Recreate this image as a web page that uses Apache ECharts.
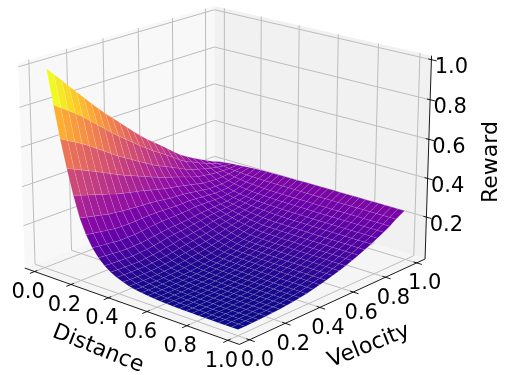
<!DOCTYPE html>
<html>
<head>
<meta charset="utf-8">
<style>html,body{margin:0;padding:0;background:#fff}#chart{width:505px;height:375px}</style>
<script src="https://cdn.jsdelivr.net/npm/echarts@6/dist/echarts.min.js"></script>
</head>
<body>
<div id="chart"></div>
<script>
const distance = [.04, .072, .104, .136, .168, .2, .232, .264, .296, .328, .36, .392, .424, .456, .488, .52, .552, .584, .616, .648, .68, .712, .744, .776, .808, .84, .872, .904, .936, .968, 1]
const velocity = [0, .039, .078, .116, .155, .194, .233, .272, .31, .349, .388, .427, .466, .504, .543, .582, .621, .66, .698, .737, .776, .815, .854, .892, .931, .985]
// reward[i][j]: distance i, velocity j
const reward = [
    [1, .96, .92, .88, .84, .8, .76, .722, .685, .65, .615, .58, .545, .512, .48, .452, .425, .395, .365, .337, .315, .295, .275, .258, .24, .22],
    [.83, .803, .778, .752, .724, .692, .66, .628, .596, .567, .538, .51, .481, .455, .428, .406, .381, .357, .332, .309, .294, .277, .262, .248, .236, .223],
    [.67, .649, .629, .608, .586, .56, .535, .51, .485, .463, .441, .419, .398, .377, .358, .342, .324, .307, .29, .274, .264, .254, .245, .238, .232, .227],
    [.53, .513, .497, .481, .464, .446, .428, .411, .394, .38, .364, .349, .334, .319, .306, .295, .283, .27, .257, .246, .24, .234, .23, .228, .228, .229],
    [.405, .392, .38, .369, .356, .345, .333, .323, .314, .306, .298, .287, .278, .269, .261, .255, .246, .238, .229, .221, .218, .215, .217, .22, .225, .232],
    [.3, .291, .282, .274, .265, .26, .254, .251, .248, .246, .243, .238, .233, .228, .225, .223, .218, .212, .206, .2, .201, .2, .206, .213, .222, .234],
    [.225, .218, .212, .206, .2, .198, .197, .198, .2, .201, .202, .2, .198, .197, .197, .198, .195, .192, .189, .186, .187, .189, .198, .208, .22, .236],
    [.168, .163, .159, .155, .151, .152, .153, .156, .16, .164, .167, .167, .168, .17, .172, .176, .175, .175, .173, .173, .176, .181, .192, .204, .219, .237],
    [.128, .124, .121, .118, .116, .118, .119, .123, .128, .133, .137, .139, .142, .145, .149, .154, .156, .158, .16, .162, .169, .175, .187, .201, .218, .238],
    [.098, .095, .093, .092, .09, .094, .096, .101, .107, .114, .119, .122, .126, .131, .136, .142, .146, .149, .152, .156, .163, .171, .184, .199, .217, .238],
    [.076, .074, .073, .072, .071, .075, .078, .083, .089, .094, .101, .105, .11, .115, .121, .129, .133, .139, .144, .15, .158, .168, .182, .197, .217, .239],
    [.06, .059, .058, .058, .058, .061, .064, .068, .074, .08, .086, .091, .097, .102, .109, .117, .123, .13, .137, .144, .154, .165, .18, .196, .216, .239],
    [.047, .045, .045, .045, .046, .048, .052, .056, .062, .067, .072, .078, .084, .091, .098, .107, .114, .122, .131, .14, .151, .163, .179, .195, .216, .239],
    [.037, .036, .036, .036, .037, .04, .042, .046, .051, .057, .061, .067, .074, .081, .089, .098, .107, .115, .125, .136, .149, .162, .178, .195, .216, .239],
    [.03, .029, .03, .03, .031, .033, .036, .039, .043, .047, .052, .058, .065, .073, .081, .09, .099, .11, .121, .133, .147, .161, .177, .194, .216, .24],
    [.025, .024, .025, .025, .027, .028, .03, .032, .035, .04, .044, .05, .058, .065, .074, .083, .093, .105, .117, .13, .145, .16, .177, .194, .215, .24],
    [.021, .021, .021, .022, .023, .025, .027, .029, .033, .037, .042, .048, .056, .063, .072, .081, .092, .103, .116, .129, .144, .16, .176, .194, .215, .24],
    [.018, .018, .018, .019, .021, .023, .024, .027, .031, .035, .04, .047, .054, .062, .07, .08, .091, .102, .115, .129, .143, .159, .176, .194, .215, .24],
    [.016, .016, .017, .017, .019, .021, .023, .025, .029, .034, .039, .045, .053, .061, .07, .079, .09, .102, .115, .128, .143, .159, .176, .193, .215, .24],
    [.014, .014, .015, .016, .017, .019, .021, .024, .028, .033, .037, .044, .052, .06, .069, .079, .089, .101, .114, .128, .143, .159, .175, .193, .215, .24],
    [.013, .013, .014, .015, .017, .018, .02, .023, .027, .032, .037, .044, .052, .059, .068, .078, .089, .101, .114, .128, .143, .158, .175, .193, .215, .24],
    [.012, .012, .013, .014, .016, .018, .02, .022, .026, .031, .036, .043, .051, .059, .068, .078, .089, .101, .114, .127, .142, .158, .175, .193, .215, .24],
    [.011, .011, .012, .013, .015, .017, .019, .022, .026, .031, .036, .043, .051, .058, .067, .077, .088, .1, .113, .127, .142, .158, .175, .193, .215, .24],
    [.011, .011, .012, .013, .015, .017, .019, .022, .026, .031, .036, .043, .051, .058, .067, .077, .088, .1, .113, .127, .142, .158, .175, .193, .215, .24],
    [.01, .01, .011, .012, .014, .016, .018, .021, .025, .03, .035, .042, .05, .058, .067, .077, .088, .1, .113, .127, .142, .158, .175, .193, .215, .24],
    [.01, .01, .011, .012, .014, .016, .018, .021, .025, .03, .035, .042, .05, .058, .067, .077, .088, .1, .113, .127, .142, .158, .175, .193, .215, .24],
    [.01, .01, .011, .012, .014, .016, .018, .021, .025, .03, .035, .042, .05, .058, .067, .077, .088, .1, .113, .127, .142, .158, .175, .193, .215, .24],
    [.01, .01, .011, .012, .014, .016, .018, .021, .025, .03, .035, .042, .05, .058, .067, .077, .088, .1, .113, .127, .142, .158, .175, .193, .215, .24],
    [.01, .01, .011, .012, .014, .016, .018, .021, .025, .03, .035, .042, .05, .058, .067, .077, .088, .1, .113, .127, .142, .158, .175, .193, .215, .24],
    [.01, .01, .011, .012, .014, .016, .018, .021, .025, .03, .035, .042, .05, .058, .067, .077, .088, .1, .113, .127, .142, .158, .175, .193, .215, .24],
    [.01, .01, .011, .012, .014, .016, .018, .021, .025, .03, .035, .042, .05, .058, .067, .077, .088, .1, .113, .127, .142, .158, .175, .193, .215, .24]
]
const xTicks = ['0.0', '0.2', '0.4', '0.6', '0.8', '1.0']
const yTicks = ['0.0', '0.2', '0.4', '0.6', '0.8', '1.0']
const zTicks = ['0.2', '0.4', '0.6', '0.8', '1.0']

// camera, same idea as a matplotlib 3d axes
const elev = 19 * Math.PI / 180, azim = -48.5 * Math.PI / 180, camDist = 9
const box = [1.1905, 1.1905, 0.8929]
const xLim = [-0.055, 1.055], yLim = [-0.055, 1.055], zLim = [-0.02, 1.02]
const scale = 242, originX = 226, originY = 163
const W = 505, H = 375

const n = [Math.cos(elev) * Math.cos(azim), Math.cos(elev) * Math.sin(azim), Math.sin(elev)]
const r = [-Math.sin(azim), Math.cos(azim), 0]
const t = [-Math.sin(elev) * Math.cos(azim), -Math.sin(elev) * Math.sin(azim), Math.cos(elev)]
const dot = (a, b) => a[0] * b[0] + a[1] * b[1] + a[2] * b[2]

function world(x, y, z) {
    return [
        ((x - xLim[0]) / (xLim[1] - xLim[0]) - 0.5) * box[0],
        ((y - yLim[0]) / (yLim[1] - yLim[0]) - 0.5) * box[1],
        ((z - zLim[0]) / (zLim[1] - zLim[0]) - 0.5) * box[2]
    ]
}
function project(x, y, z) {
    const p = world(x, y, z)
    const f = camDist / (camDist - dot(p, n))
    return [dot(p, r) * f, dot(p, t) * f]
}

const plasma = ['#0d0887', '#41049d', '#6a00a8', '#8f0da4', '#b12a90', '#cc4778', '#e16462', '#f2844b', '#fca636', '#fcce25', '#f0f921']
function plasmaColor(v) {
    const k = Math.max(0, Math.min(0.9999, v)) * (plasma.length - 1), i = Math.floor(k)
    return echarts.color.lerp(k - i, [plasma[i], plasma[i + 1]])
}

// surface cells, far ones first
const cells = []
for (let i = 0; i < distance.length - 1; i++) {
    for (let j = 0; j < velocity.length - 1; j++) {
        const q = [[i, j], [i + 1, j], [i + 1, j + 1], [i, j + 1]]
        const c = q.map(a => [distance[a[0]], velocity[a[1]], reward[a[0]][a[1]]])
        const mean = c.reduce((s, a) => s + a[2], 0) / 4
        const depth = c.reduce((s, a) => s + dot(world(a[0], a[1], a[2]), n), 0) / 4
        cells.push({c, mean, depth})
    }
}
cells.sort((a, b) => a.depth - b.depth)
const minMean = Math.min(...cells.map(o => o.mean)), maxMean = Math.max(...cells.map(o => o.mean))

// panes
const [x0, x1] = xLim, [y0, y1] = yLim, [z0, z1] = zLim
const panes = [
    {fill: '#f8f8f8', c: [[x0, y0, z0], [x0, y1, z0], [x0, y1, z1], [x0, y0, z1]]},
    {fill: '#f1f1f1', c: [[x0, y1, z0], [x1, y1, z0], [x1, y1, z1], [x0, y1, z1]]},
    {fill: '#f5f5f5', c: [[x0, y0, z0], [x1, y0, z0], [x1, y1, z0], [x0, y1, z0]]}
]

// grid lines and axis lines
const gridLines = [], axisLines = []
xTicks.forEach(s => {
    const v = +s
    gridLines.push([[v, y0, z0], [v, y1, z0]], [[v, y1, z0], [v, y1, z1]])
    axisLines.push([[v, y0 - 0.025, z0], [v, y0 + 0.015, z0]])
})
yTicks.forEach(s => {
    const v = +s
    gridLines.push([[x0, v, z0], [x1, v, z0]], [[x0, v, z0], [x0, v, z1]])
    axisLines.push([[x1 - 0.015, v, z0], [x1 + 0.025, v, z0]])
})
zTicks.forEach(s => {
    const v = +s
    gridLines.push([[x0, y0, v], [x0, y1, v]], [[x0, y1, v], [x1, y1, v]])
    axisLines.push([[x1 - 0.015, y1, v], [x1 + 0.025, y1, v]])
})
axisLines.push([[x0, y0, z0], [x1, y0, z0]], [[x1, y0, z0], [x1, y1, z0]], [[x1, y1, z0], [x1, y1, z1]])

const font = 'DejaVu Sans'
function textEl(api, pos, dx, dy, text) {
    const p = api.coord(pos)
    return {
        type: 'text', x: p[0] + dx, y: p[1] + dy,
        style: {text, fontFamily: font, fontSize: 21, fill: '#000', align: 'center', verticalAlign: 'middle'}
    }
}
const labels = []
xTicks.forEach(s => labels.push({pos: [+s, y0, z0], dx: -6.5, dy: 21, text: s}))
yTicks.forEach(s => labels.push({pos: [x1, +s, z0], dx: 8, dy: 21, text: s}))
zTicks.forEach(s => labels.push({pos: [x1, y1, +s], dx: 20, dy: 8, text: s}))
const titles = [
    {px: [98, 349], text: 'Distance', rotation: -0.38},
    {px: [369, 346], text: 'Velocity', rotation: 0.38},
    {px: [491, 162], text: 'Reward', rotation: Math.PI / 2}
]

const polyPoints = (api, c) => c.map(a => api.coord(project(a[0], a[1], a[2])))
const custom = (list, renderItem, z) => ({
    type: 'custom', coordinateSystem: 'cartesian2d', silent: true, clip: false, z,
    data: list.map((o, i) => [i]), encode: {x: 0, y: 0}, renderItem
})

const chart = echarts.init(document.getElementById('chart'), null, {renderer: 'canvas'})
chart.setOption({
    animation: false,
    backgroundColor: '#fff',
    grid: {left: 0, right: 0, top: 0, bottom: 0},
    xAxis: {type: 'value', show: false, min: -originX / scale, max: (W - originX) / scale},
    yAxis: {type: 'value', show: false, min: (originY - H) / scale, max: originY / scale},
    series: [
        custom(panes, (p, api) => ({
            type: 'polygon', shape: {points: polyPoints(api, panes[p.dataIndex].c)},
            style: {fill: panes[p.dataIndex].fill}
        }), 1),
        custom(gridLines, (p, api) => {
            const a = polyPoints(api, gridLines[p.dataIndex])
            return {type: 'line', shape: {x1: a[0][0], y1: a[0][1], x2: a[1][0], y2: a[1][1]}, style: {stroke: '#bdbdbd', lineWidth: 1}}
        }, 2),
        custom(axisLines, (p, api) => {
            const a = polyPoints(api, axisLines[p.dataIndex])
            return {type: 'line', shape: {x1: a[0][0], y1: a[0][1], x2: a[1][0], y2: a[1][1]}, style: {stroke: '#000', lineWidth: 0.9}}
        }, 3),
        custom(cells, (p, api) => {
            const o = cells[p.dataIndex]
            return {
                type: 'polygon', shape: {points: polyPoints(api, o.c)},
                style: {fill: plasmaColor((o.mean - minMean) / (maxMean - minMean)), stroke: 'rgba(255,255,255,0.2)', lineWidth: 0.5}
            }
        }, 4),
        custom(labels, (p, api) => {
            const o = labels[p.dataIndex]
            return textEl(api, project(o.pos[0], o.pos[1], o.pos[2]), o.dx, o.dy, o.text)
        }, 5),
        custom(titles, (p, api) => {
            const o = titles[p.dataIndex]
            return {
                type: 'text', x: o.px[0], y: o.px[1], rotation: o.rotation,
                style: {text: o.text, fontFamily: font, fontSize: 22, fill: '#000', align: 'center', verticalAlign: 'middle'}
            }
        }, 5)
    ]
})
</script>
</body>
</html>
